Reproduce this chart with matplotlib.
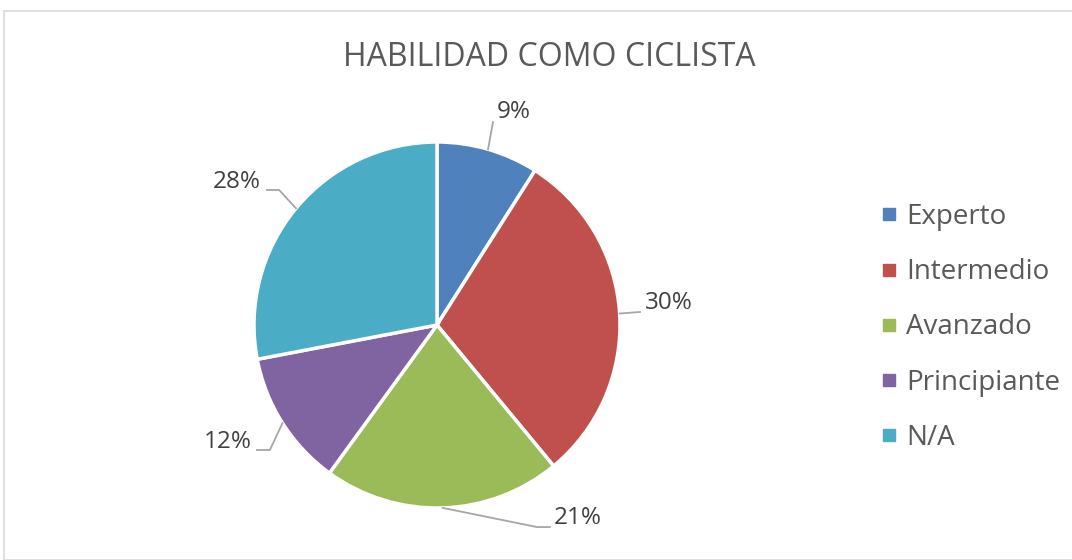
import numpy as np
import matplotlib.pyplot as plt
from matplotlib.lines import Line2D
from matplotlib.patches import Rectangle

plt.rcParams['font.family'] = ['Open Sans', 'DejaVu Sans']

# data
categories = ['Experto', 'Intermedio', 'Avanzado', 'Principiante', 'N/A']
shares = [9, 30, 21, 12, 28]
colors = ['#4F81BD', '#C0504D', '#9BBB59', '#8064A2', '#4BACC6']
title = 'HABILIDAD COMO CICLISTA'

# label placement, in pie radii relative to centre (like Excel "best fit")
label_pos = [(0.421, 1.164), (1.268, 0.12), (0.77, -1.055), (-1.142, -0.639), (-1.093, 0.781)]
# leader lines: elbow point, then short horizontal end point
leader_elbow = [(0.306, 1.109), (1.109, 0.071), (0.546, -1.104), (-0.913, -0.683), (-0.863, 0.738)]
leader_end = [(0.306, 1.109), (1.109, 0.071), (0.617, -1.104), (-0.984, -0.683), (-0.929, 0.738)]

W, H = 1072, 560
fig = plt.figure(figsize=(W / 100, H / 100), dpi=100)
ax = fig.add_axes([0, 0, 1, 1])

cx, cy, r = 437, H - 325, 183
wedges, _ = ax.pie(shares, colors=colors, startangle=90, counterclock=False,
                   center=(cx, cy), radius=r,
                   wedgeprops=dict(edgecolor='white', linewidth=2.5))
ax.set_xlim(0, W)
ax.set_ylim(0, H)
ax.set_aspect('equal')
ax.axis('off')

# percentage labels with leader lines
total = sum(shares)
start = 90.0
for val, (lx, ly), (bx, by), (ex, ey) in zip(shares, label_pos, leader_elbow, leader_end):
    span = 360.0 * val / total
    mid = np.deg2rad(start - span / 2)
    start -= span
    px, py = cx + r * np.cos(mid), cy + r * np.sin(mid)
    ax.plot([px, cx + bx * r, cx + ex * r], [py, cy + by * r, cy + ey * r],
            color='#A6A6A6', lw=1.3)
    ax.text(cx + lx * r, cy + ly * r, f'{val}%', ha='center', va='center',
            fontsize=17.5, color='#404040')

fig.text(549 / W, 1 - 58 / H, title, ha='center', va='center',
         fontsize=23, color='#595959')

handles = [Line2D([], [], marker='s', linestyle='none', markersize=9,
                  markerfacecolor=c, markeredgecolor=c) for c in colors]
leg = fig.legend(handles, categories, loc='upper left',
                 bbox_to_anchor=(853 / W, 1 - 178 / H), frameon=False,
                 fontsize=20, handlelength=0.8, handletextpad=0.22,
                 labelspacing=0.98, labelcolor='#595959')

fig.patches.append(Rectangle((4 / W, 0), 1.1, 1 - 11 / H, transform=fig.transFigure,
                             fill=False, edgecolor='#D9D9D9', linewidth=1.2))

fig.savefig('out.png', dpi=100)
